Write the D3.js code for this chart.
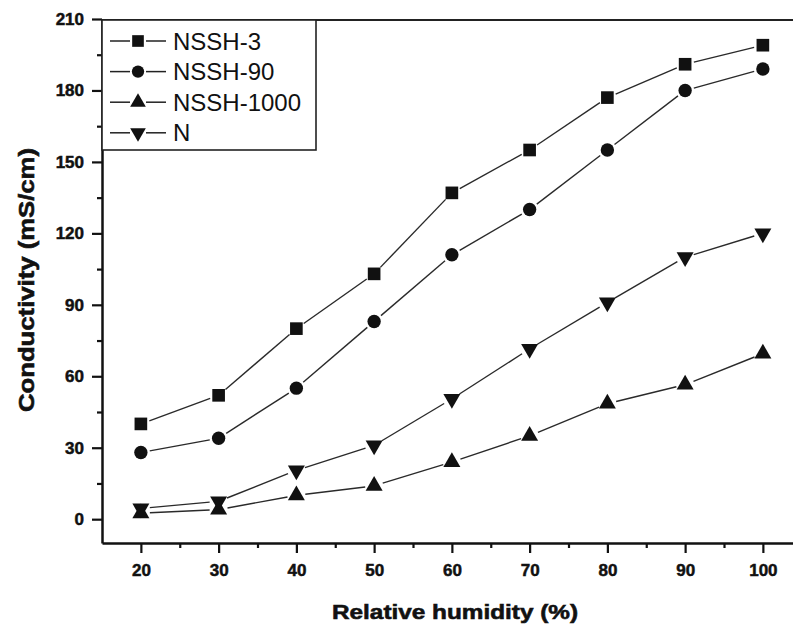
<!DOCTYPE html>
<html>
<head>
<meta charset="utf-8">
<script src="https://cdn.jsdelivr.net/npm/d3@7"></script>
<style>
  html, body { margin: 0; padding: 0; background: #fff; }
  svg { display: block; }
  text { font-family: "Liberation Sans", Arial, sans-serif; fill: #111; }
</style>
</head>
<body>
<svg id="chart" width="793" height="629"></svg>
<script>
// --- Data ---
const humidity = [20, 30, 40, 50, 60, 70, 80, 90, 100];
const nssh3 = [40, 52, 80, 103, 137, 155, 177, 191, 199];
const nssh90 = [28, 34, 55, 83, 111, 130, 155, 180, 189];
const nssh1000 = [2.5, 4, 10, 14, 24, 35, 48.5, 56.5, 69.5];
const nPlain = [4.5, 7.5, 20.5, 31, 50.5, 71.5, 91, 110, 120];

const seriesNames = ['NSSH-3', 'NSSH-90', 'NSSH-1000', 'N'];
const seriesValues = [nssh3, nssh90, nssh1000, nPlain];
const seriesShapes = ['square', 'circle', 'up', 'down'];

const xMajor = [20, 30, 40, 50, 60, 70, 80, 90, 100];
const xMinor = [25, 35, 45, 55, 65, 75, 85, 95, 105];
const yMajor = [0, 30, 60, 90, 120, 150, 180, 210];
const yMinor = [15, 45, 75, 105, 135, 165, 195];

// --- Scales ---
const svg = d3.select('#chart');
const x = d3.scaleLinear().domain([15, 105]).range([102, 801.75]);
const y = d3.scaleLinear().domain([-10, 210]).range([543, 19]);

// --- Markers ---
function markerPath(shape, scale) {
  const s = scale || 1;
  if (shape === 'square') return d3.symbol(d3.symbolSquare, 160 * s)();
  if (shape === 'circle') return d3.symbol(d3.symbolCircle, 140 * s)();
  return d3.symbol(d3.symbolTriangle, 125 * s)();
}

function drawMarker(g, shape, cx, cy, scale) {
  g.append('path')
    .attr('d', markerPath(shape, scale))
    .attr('transform', `translate(${cx},${cy})` + (shape === 'down' ? ' rotate(180)' : ''))
    .attr('fill', '#111');
}

// --- Series lines (Origin style: gap next to each symbol) ---
const gap = 9;
const plot = svg.append('g');

seriesValues.forEach((vals, si) => {
  const pts = humidity.map((h, i) => [x(h), y(vals[i])]);
  for (let i = 0; i < pts.length - 1; i++) {
    const [x1, y1] = pts[i];
    const [x2, y2] = pts[i + 1];
    const len = Math.hypot(x2 - x1, y2 - y1);
    if (len <= gap * 2) continue;
    const ux = (x2 - x1) / len, uy = (y2 - y1) / len;
    plot.append('line')
      .attr('x1', x1 + ux * gap).attr('y1', y1 + uy * gap)
      .attr('x2', x2 - ux * gap).attr('y2', y2 - uy * gap)
      .attr('stroke', '#2a2a2a')
      .attr('stroke-width', 1.4);
  }
  pts.forEach(p => drawMarker(plot, seriesShapes[si], p[0], p[1]));
});

// --- Axes ---
const axisFont = 'bold 17px "Liberation Sans", Arial, sans-serif';

svg.append('g')
  .attr('transform', `translate(0,${y(-10)})`)
  .call(d3.axisBottom(x).tickValues(xMajor).tickSize(10).tickSizeOuter(0).tickPadding(11));
svg.append('g')
  .attr('transform', `translate(0,${y(-10)})`)
  .call(d3.axisBottom(x).tickValues(xMinor).tickSize(5).tickFormat(''))
  .call(g => g.select('.domain').remove());

svg.append('g')
  .attr('transform', `translate(${x(15)},0)`)
  .call(d3.axisLeft(y).tickValues(yMajor).tickSize(10).tickSizeOuter(0).tickPadding(8));
svg.append('g')
  .attr('transform', `translate(${x(15)},0)`)
  .call(d3.axisLeft(y).tickValues(yMinor).tickSize(5).tickFormat(''))
  .call(g => g.select('.domain').remove());

svg.selectAll('.domain').attr('stroke', '#111').attr('stroke-width', 2.5);
svg.selectAll('.tick line').attr('stroke', '#111').attr('stroke-width', 2.2);
svg.selectAll('.tick text')
  .style('font', axisFont)
  .attr('fill', '#111')
  .attr('stroke', '#111').attr('stroke-width', 0.5);

// top frame line
svg.append('line')
  .attr('x1', x(15)).attr('x2', 793)
  .attr('y1', y(210) + 1).attr('y2', y(210) + 1)
  .attr('stroke', '#222').attr('stroke-width', 2);

// --- Axis titles ---
svg.append('text')
  .attr('x', 455).attr('y', 619)
  .attr('text-anchor', 'middle')
  .attr('textLength', 246).attr('lengthAdjust', 'spacingAndGlyphs')
  .attr('stroke', '#111').attr('stroke-width', 0.6)
  .style('font', 'bold 21px "Liberation Sans", Arial, sans-serif')
  .text('Relative humidity (%)');

svg.append('text')
  .attr('transform', 'translate(34,280) rotate(-90)')
  .attr('text-anchor', 'middle')
  .attr('textLength', 264).attr('lengthAdjust', 'spacingAndGlyphs')
  .attr('stroke', '#111').attr('stroke-width', 0.6)
  .style('font', 'bold 22px "Liberation Sans", Arial, sans-serif')
  .text('Conductivity (mS/cm)');

// --- Legend ---
const legend = svg.append('g');
legend.append('rect')
  .attr('x', x(15)).attr('y', y(210) + 1)
  .attr('width', 214).attr('height', 130)
  .attr('fill', '#fff')
  .attr('stroke', '#222').attr('stroke-width', 1.6);

seriesNames.forEach((name, i) => {
  const cy = 41 + i * 30.6;
  legend.append('line')
    .attr('x1', 110).attr('x2', 130).attr('y1', cy).attr('y2', cy)
    .attr('stroke', '#222').attr('stroke-width', 1.5);
  legend.append('line')
    .attr('x1', 146).attr('x2', 166).attr('y1', cy).attr('y2', cy)
    .attr('stroke', '#222').attr('stroke-width', 1.5);
  drawMarker(legend, seriesShapes[i], 138, cy, 0.85);
  legend.append('text')
    .attr('x', 173).attr('y', cy + 8.5)
    .style('font', '24px "Liberation Sans", Arial, sans-serif')
    .text(name);
});
</script>
</body>
</html>
